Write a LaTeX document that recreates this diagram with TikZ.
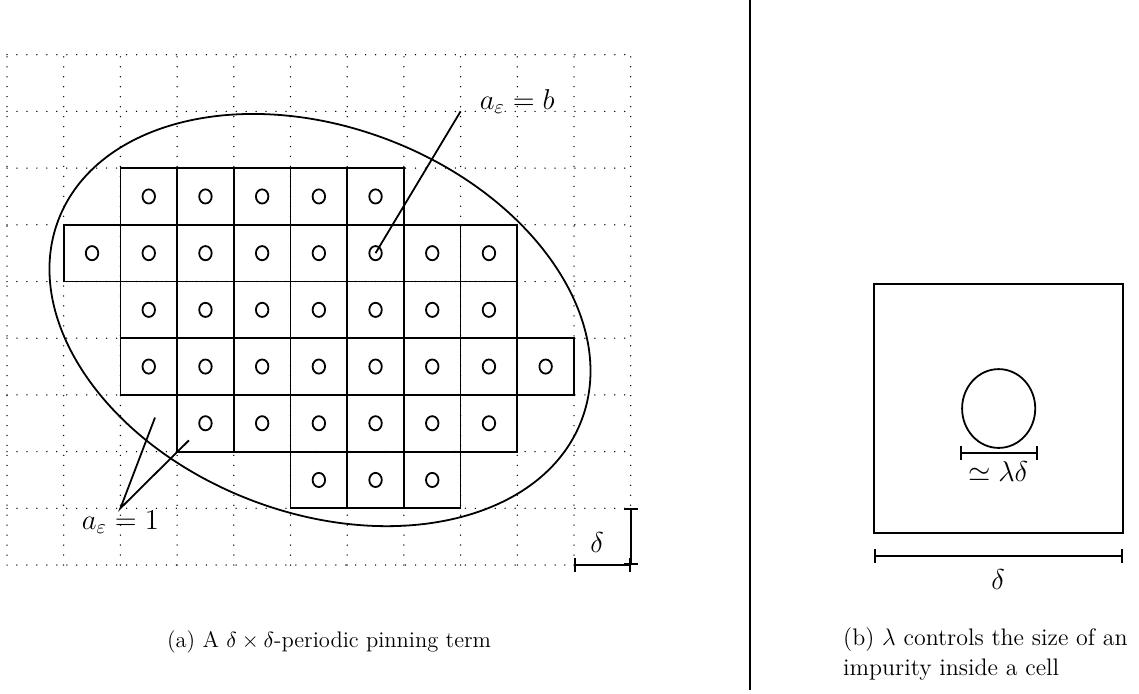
\documentclass[tikz,border=0pt]{standalone}
\usetikzlibrary{arrows.meta,shapes.geometric}
\begin{document}
\begin{tikzpicture}[
  gridline/.style={line width=0.75pt, dash pattern=on 0pt off 5pt, line cap=round},
  cellbox/.style={draw, line width=0.9pt, minimum size=1cm, inner sep=0pt, outer sep=0pt},
  imp/.style={draw, ellipse, line width=0.9pt, minimum width=0.22cm, minimum height=0.25cm, inner sep=0pt},
  conn/.style={line width=0.9pt},
  barline/.style={line width=0.9pt, {Bar[width=7pt]}-{Bar[width=7pt]}},
  lab/.style={font=\fontsize{13.8}{16.5}\selectfont, inner sep=0pt},
  labb/.style={font=\fontsize{13.5}{16}\selectfont, inner sep=0pt},
  captexta/.style={font=\fontsize{11.3}{13.6}\selectfont, inner sep=0pt},
  captextb/.style={font=\fontsize{12}{13.5}\selectfont, inner sep=0pt}
]
\useasboundingbox (-0.1235,-2.275) rectangle (19.965,9.965);

% ---------- panel (a) ----------
\draw[gridline] (0,0) grid (11,9);

\foreach \y/\xs in {6/{2,...,6}, 5/{1,...,8}, 4/{2,...,8}, 3/{2,...,9}, 2/{3,...,8}, 1/{5,6,7}} {
  \foreach \x in \xs {
    \node[cellbox] (cell-\x-\y) at (\x+0.5,\y+0.5) {};
    \node[imp] (imp-\x-\y) at (\x+0.5,\y+0.5) {};
  }
}

\draw[line width=0.9pt, rotate around={-21:(5.52,4.32)}] (5.52,4.32) ellipse [x radius=4.94, y radius=3.40];

\coordinate (bend) at (8,8);
\draw[conn] (imp-6-5.center) -- (bend);
\node[lab] (lb) at (9.0,8.18) {$a_\varepsilon = b$};

\coordinate (onetip) at (2,1);
\coordinate (oneA) at (2.61,2.60);
\coordinate (oneB) at (3.21,2.20);
\draw[conn] (oneA) -- (onetip) -- (oneB);
\node[lab] (l1) at (2.0,0.76) {$a_\varepsilon = 1$};

\coordinate (da) at (10,0);
\coordinate (db) at (11,0);
\coordinate (dc) at (11,1);
\draw[barline] (da) -- (db);
\draw[barline] (db) -- (dc);
\node[lab] (dl) at (10.41,0.39) {$\delta$};

\node[captexta] (capa) at (5.68,-1.36) {(a) A $\delta\times\delta$-periodic pinning term};

% ---------- separator ----------
\coordinate (septop) at (13.10,9.965);
\coordinate (sepbot) at (13.10,-2.2);
\draw[line width=1.2pt] (septop) -- (sepbot);

% ---------- panel (b) ----------
\node[draw, line width=0.9pt, minimum size=4.39cm, inner sep=0pt, outer sep=0pt] (sq) at (17.485,2.76) {};
\node[draw, ellipse, line width=0.9pt, minimum width=1.29cm, minimum height=1.39cm, inner sep=0pt] (imb) at (17.49,2.76) {};

\coordinate (la) at (16.81,1.975);
\coordinate (lbb) at (18.18,1.975);
\draw[barline] (la) -- (lbb);
\node[labb] (lamlab) at (17.48,1.64) {$\simeq \lambda\delta$};

\coordinate (ba) at (15.29,0.159);
\coordinate (bb) at (19.68,0.159);
\draw[barline] (ba) -- (bb);
\node[labb] (dlab) at (17.48,-0.265) {$\delta$};

\node[captextb, anchor=north west, align=left] (capb) at (14.74,-1.093) {(b) $\lambda$ controls the size of an\\[1.5pt]impurity inside a cell};
\end{tikzpicture}
\end{document}
